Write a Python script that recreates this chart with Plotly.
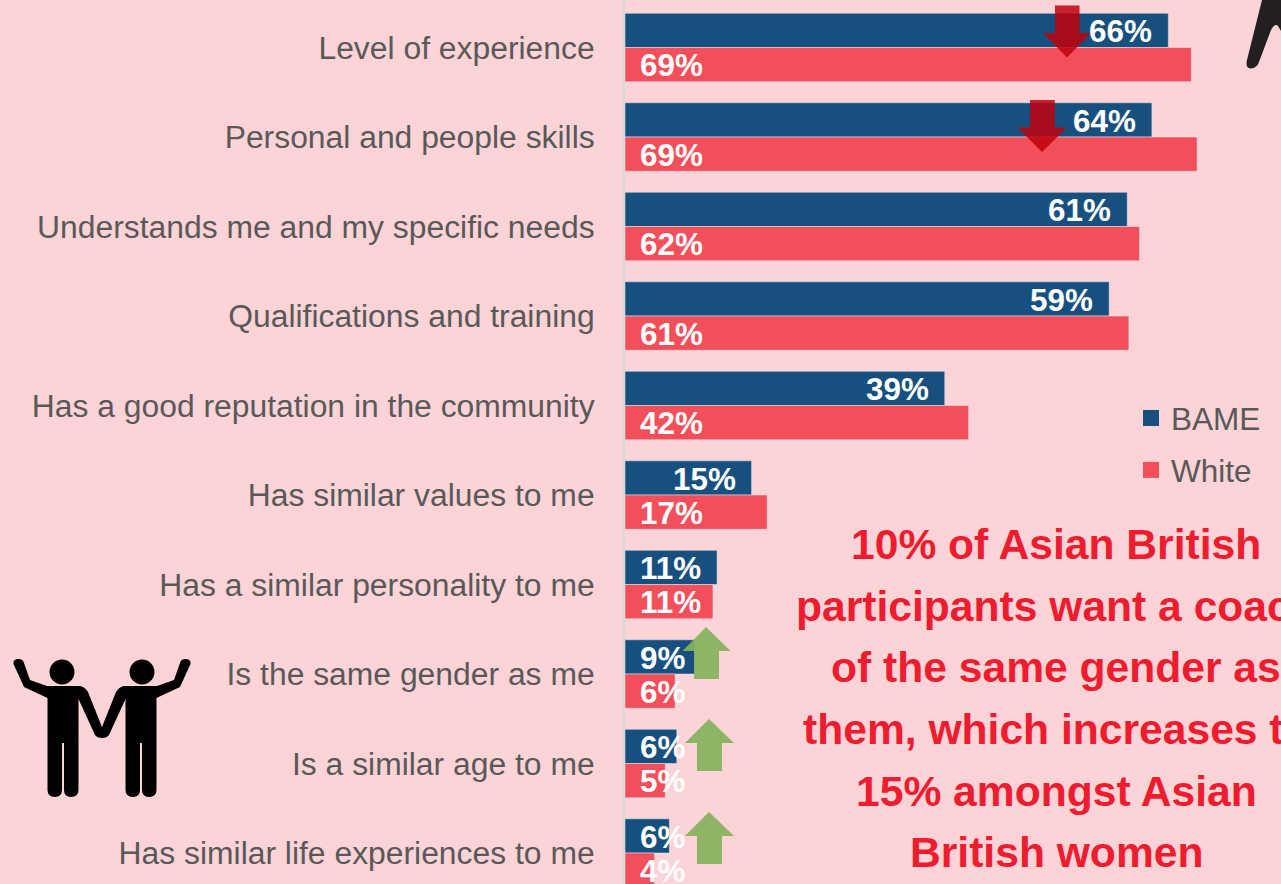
import plotly.graph_objects as go

categories = ["Level of experience", "Personal and people skills", "Understands me and my specific needs",
              "Qualifications and training", "Has a good reputation in the community", "Has similar values to me",
              "Has a similar personality to me", "Is the same gender as me", "Is a similar age to me",
              "Has similar life experiences to me"]
bame_values = [66.1, 64.1, 61.1, 58.9, 38.9, 15.4, 11.2, 8.5, 6.3, 5.4]
white_values = [68.9, 69.6, 62.6, 61.3, 41.8, 17.3, 10.7, 6.1, 4.9, 3.6]
bame_labels = ["66%", "64%", "61%", "59%", "39%", "15%", "11%", "9%", "6%", "6%"]
white_labels = ["69%", "69%", "62%", "61%", "42%", "17%", "11%", "6%", "5%", "4%"]
callout_lines = ["10% of Asian British", "participants want a coach", "of the same gender as",
                 "them, which increases to", "15% amongst Asian", "British women"]

W, H = 1281, 884
PL = 625
BG = "#fcd3d7"; BLUE = "#17507f"; RED = "#f34f5b"; GREY = "#595959"; FONT = "Liberation Sans, Arial, sans-serif"

def px(x): return (x - PL) / (W - PL)
def py(y): return 1 - y / H
def path(cmds):
    out = []
    for c in cmds:
        if len(c) == 3:
            out.append(f"{c[0]}{px(c[1]):.5f},{py(c[2]):.5f}")
        else:
            out.append(f"Q{px(c[1]):.5f},{py(c[2]):.5f} {px(c[3]):.5f},{py(c[4]):.5f}")
    return " ".join(out) + " Z"

def arrow(tipx, tipy, headx0, headx1, heady, shx0, shx1, endy, color):
    d = path([("M", tipx, tipy), ("L", headx1, heady), ("L", shx1, heady), ("L", shx1, endy),
              ("L", shx0, endy), ("L", shx0, heady), ("L", headx0, heady)])
    return dict(type="path", xref="paper", yref="paper", path=d, fillcolor=color, line=dict(width=0), layer="above")

fig = go.Figure()
fig.add_bar(name="BAME", y=categories, x=bame_values, orientation="h", marker_color=BLUE, showlegend=False)
fig.add_bar(name="White", y=categories, x=white_values, orientation="h", marker_color=RED, showlegend=False)
# legend-only entries, so the swatches can be the reference's larger squares
for name, col, grp in (("BAME", BLUE, "a"), ("White", RED, "b")):
    fig.add_scatter(name=name, x=[None], y=[None], mode="markers", legendgroup=grp,
                    marker=dict(symbol="square", size=16, color=col))

ann = []
for i, cat in enumerate(categories):
    if bame_values[i] > 12:
        ann.append(dict(x=bame_values[i], xanchor="right", xshift=-15, y=cat, yshift=16, text=f"<b>{bame_labels[i]}</b>"))
    else:
        ann.append(dict(x=0, xanchor="left", xshift=14, y=cat, yshift=16, text=f"<b>{bame_labels[i]}</b>"))
    ann.append(dict(x=0, xanchor="left", xshift=14, y=cat, yshift=-18, text=f"<b>{white_labels[i]}</b>"))
for a in ann:
    a.update(xref="x", yref="y", showarrow=False, yanchor="middle", borderpad=0,
             font=dict(family=FONT, size=31.4, color="white"))
callout_y = [544, 605.5, 667, 728.5, 790.5, 851.5]
for line, yy in zip(callout_lines, callout_y):
    ann.append(dict(xref="paper", yref="paper", x=px(1056), y=py(yy), xanchor="center", yanchor="middle",
                    showarrow=False, text=f"<b>{line}</b>", font=dict(family=FONT, size=42.6, color="#ee1c2e")))

shapes = [
    arrow(1067, 57.5, 1043, 1091, 33, 1055, 1079.5, 5.5, "rgba(192,0,10,0.85)"),
    arrow(1042, 152, 1017.5, 1067, 127.5, 1030, 1054.7, 100, "rgba(192,0,10,0.85)"),
    arrow(706, 627, 682.5, 730.5, 651, 694, 719, 679, "rgba(133,178,92,0.93)"),
    arrow(709, 719, 685, 734, 743, 697, 722, 771, "rgba(133,178,92,0.93)"),
    arrow(709, 812, 685, 734, 836, 697, 722, 864, "rgba(133,178,92,0.93)"),
]
# hand at the top-right edge
shapes.append(dict(type="path", xref="paper", yref="paper", fillcolor="#231f20", line=dict(width=0),
    path=path([("M", 1262, 0), ("L", 1247, 60), ("Q", 1245, 68.5, 1251, 68.5), ("Q", 1257, 68, 1259, 62),
               ("L", 1271, 30), ("Q", 1275, 23, 1278, 26), ("L", 1281, 31), ("L", 1281, 0)])))
# people icon
def mx(x): return 204 - x
shapes.append(dict(type="path", xref="paper", yref="paper", fillcolor="black", line=dict(width=0),
    path=path([("M", 13.5, 664), ("Q", 13, 659, 18.5, 659), ("Q", 23, 659, 24, 663), ("L", 30, 680), ("L", 47, 686),
               ("L", 80, 686), ("Q", 85, 687, 88, 692), ("L", 102, 727),
               ("L", mx(88), 692), ("Q", mx(85), 687, mx(80), 686), ("L", mx(47), 686), ("L", mx(30), 680),
               ("L", mx(24), 663), ("Q", mx(23), 659, mx(18.5), 659), ("Q", mx(13), 659, mx(13.5), 664),
               ("L", mx(24), 687), ("L", mx(47.5), 698), ("L", mx(47.5), 790), ("Q", mx(47.5), 797, mx(55), 797),
               ("Q", mx(62), 797, mx(62), 790), ("L", mx(62), 743), ("L", mx(64), 743), ("L", mx(64), 790),
               ("Q", mx(64), 797, mx(71), 797), ("Q", mx(78.5), 797, mx(78.5), 790), ("L", mx(78.5), 699),
               ("L", mx(95), 735), ("Q", mx(97), 738, 102, 738), ("Q", 97, 738, 95, 735),
               ("L", 78.5, 699), ("L", 78.5, 790), ("Q", 78.5, 797, 71, 797), ("Q", 64, 797, 64, 790), ("L", 64, 743),
               ("L", 62, 743), ("L", 62, 790), ("Q", 62, 797, 55, 797), ("Q", 47.5, 797, 47.5, 790), ("L", 47.5, 698),
               ("L", 24, 687)])))
for cx in (62, 142):
    shapes.append(dict(type="circle", xref="paper", yref="paper", fillcolor="black", line=dict(width=0),
                       x0=px(cx - 12.5), x1=px(cx + 12.5), y0=py(684.5), y1=py(659.5)))

fig.update_layout(
    width=W, height=H, margin=dict(l=PL, r=0, t=0, b=0), paper_bgcolor=BG, plot_bgcolor=BG,
    barmode="group", bargap=0.235, bargroupgap=0, annotations=ann, shapes=shapes,
    font=dict(family=FONT, color=GREY),
    legend=dict(x=px(1131), y=py(391), xanchor="left", yanchor="top", bgcolor="rgba(0,0,0,0)",
                font=dict(family=FONT, size=31.5, color=GREY), tracegroupgap=8, traceorder="grouped",
                itemwidth=30),
    xaxis=dict(visible=False, range=[0, (W - PL) / 8.22]),
    yaxis=dict(range=[9.346, -0.531], showline=True, linecolor="#d9d9d9", linewidth=2, showgrid=False,
               zeroline=False, ticks="", tickfont=dict(family=FONT, size=31.85, color=GREY), ticklabelstandoff=22,
               automargin=False, categoryorder="array", categoryarray=categories),
)
fig.write_html("out.html", config=dict(displayModeBar=False),
               post_script="document.body.style.margin='0';document.body.style.overflow='hidden';")
